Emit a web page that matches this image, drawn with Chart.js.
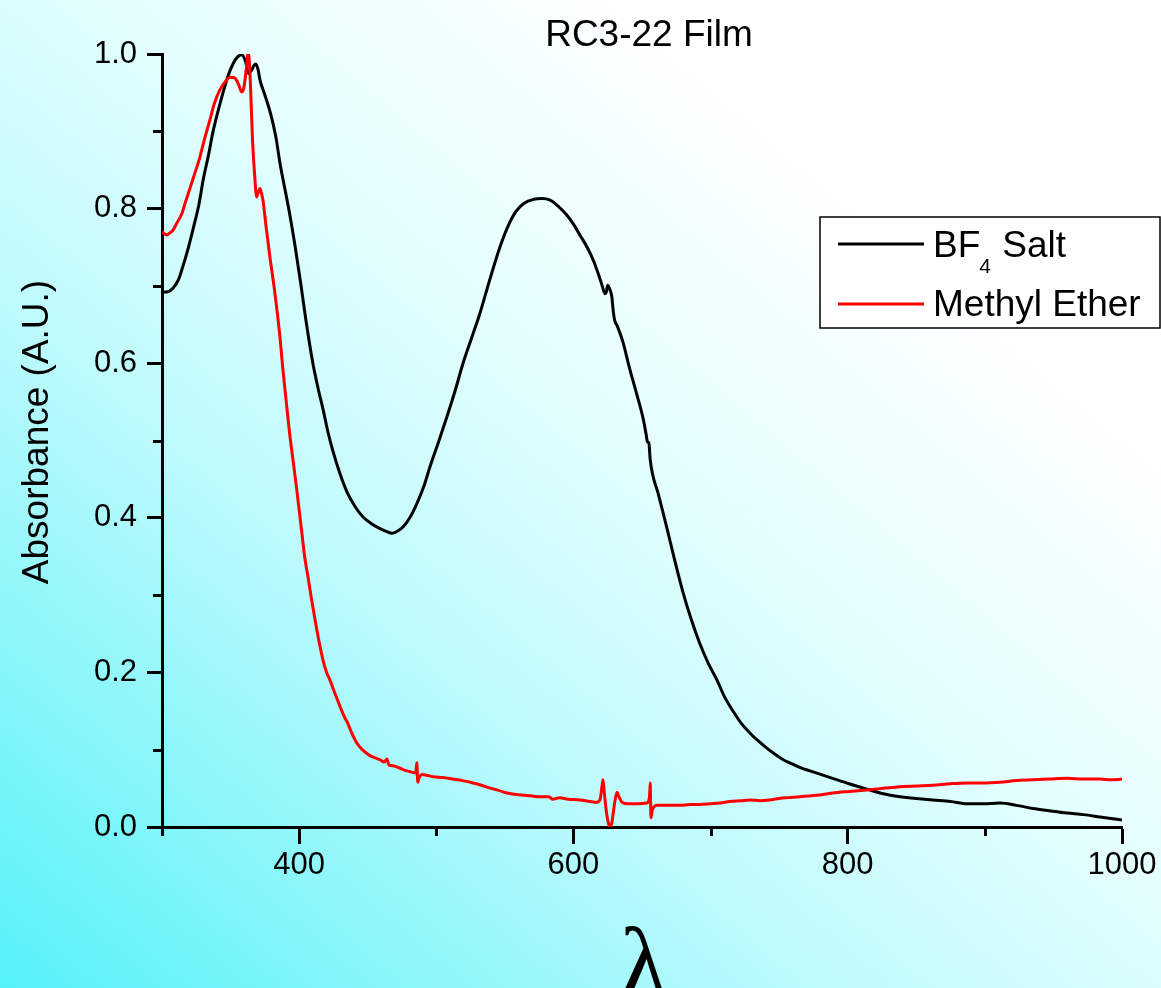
<!DOCTYPE html>
<html>
<head>
<meta charset="utf-8">
<title>RC3-22 Film</title>
<script src="https://cdn.jsdelivr.net/npm/chart.js@4.4.1/dist/chart.umd.min.js"></script>
<style>
  html, body { margin: 0; padding: 0; }
  body {
    width: 1161px;
    height: 988px;
    overflow: hidden;
    background: linear-gradient(to top right, #55f2f8 0%, #bdfafc 35%, #e4fefe 55%, #ffffff 78%);
  }
  #spectra { display: block; }
</style>
</head>
<body>
<canvas id="spectra" width="1161" height="988"></canvas>
<script>
// BF4 salt film spectrum
const saltWavelength = [
  300, 303, 308, 312, 315, 319, 323, 327, 330, 334, 337, 341, 344.5, 348, 352, 355, 358, 361, 363, 365,
  367, 368.5, 370, 371.5, 375, 379, 383, 386, 390, 393, 397, 401, 405, 410, 414, 417.6, 421, 424.7, 430, 435,
  441, 446.6, 453, 459, 464, 467.7, 471, 475.7, 481, 486, 491, 495.4, 502, 507.8, 514, 519.5, 526, 531.9, 539, 546,
  552, 558, 564, 571, 577, 583, 589, 595, 600, 605, 610, 615, 619, 621, 623, 624, 625, 626, 628, 629,
  630, 632, 636, 641, 646, 651, 653, 654, 655, 656, 662, 668, 674, 680, 686, 692, 698, 704.7, 710, 716,
  722, 729, 735, 741, 747, 753, 759, 765, 777, 789, 801, 814, 826, 838, 850, 862, 875, 887, 899, 911,
  923, 935, 947, 960, 972, 984, 992, 1000
];
const saltAbsorbance = [
  0.692, 0.692, 0.697, 0.708, 0.724, 0.748, 0.776, 0.806, 0.837, 0.870, 0.898, 0.927, 0.950, 0.971, 0.988, 0.996, 0.999, 0.990, 0.975, 0.978,
  0.985, 0.987, 0.980, 0.966, 0.947, 0.924, 0.893, 0.859, 0.822, 0.794, 0.752, 0.705, 0.655, 0.600, 0.566, 0.539, 0.511, 0.486, 0.456, 0.433,
  0.414, 0.401, 0.392, 0.386, 0.382, 0.380, 0.382, 0.388, 0.401, 0.419, 0.441, 0.466, 0.500, 0.531, 0.566, 0.600, 0.634, 0.665, 0.708, 0.748,
  0.776, 0.796, 0.807, 0.812, 0.813, 0.811, 0.803, 0.792, 0.780, 0.765, 0.750, 0.731, 0.711, 0.700, 0.690, 0.692, 0.701, 0.698, 0.686, 0.668,
  0.656, 0.648, 0.628, 0.593, 0.561, 0.527, 0.508, 0.498, 0.497, 0.475, 0.430, 0.388, 0.344, 0.303, 0.268, 0.238, 0.213, 0.190, 0.169, 0.151,
  0.135, 0.121, 0.111, 0.102, 0.094, 0.087, 0.082, 0.077, 0.070, 0.063, 0.056, 0.049, 0.043, 0.039, 0.037, 0.035, 0.033, 0.030, 0.030, 0.031,
  0.028, 0.024, 0.021, 0.018, 0.016, 0.013, 0.011, 0.009
];

// methyl ether film spectrum
const etherWavelength = [
  300, 303.6, 306, 308, 311, 314.6, 317, 320, 324, 327.7, 331, 335, 338, 342, 346, 349.6, 353, 356, 358, 359.5,
  360.5, 362, 362.7, 363.5, 364.5, 366, 367.5, 369, 370.3, 371.5, 372.5, 373.6, 376, 378.7, 382, 386, 388, 390.5, 393, 395.5,
  398, 402, 404, 406.5, 409, 411.6, 414.5, 417.4, 420, 422.5, 425, 427.6, 430, 433.4, 435, 438, 441, 444, 448, 452,
  456, 459, 462, 464, 465.5, 469, 473.5, 478, 482, 485, 485.8, 486.5, 487.5, 490, 493, 497.6, 505, 512, 519, 526.8,
  533, 540, 546, 551.6, 558, 564, 570, 575.6, 582, 585, 590, 596, 604.8, 612, 617, 619.5, 621, 621.6, 622.5, 624,
  625.5, 626.7, 628, 629, 630.5, 631.8, 633, 635.4, 640, 647, 653.6, 655.5, 656, 656.3, 656.6, 657.5, 661, 668, 677.7, 685,
  692, 700, 707, 714, 722, 729, 736, 743, 750, 757, 765, 777, 789, 801, 814, 826, 838, 850, 862, 875,
  887, 899, 911, 923, 935, 947, 960, 972, 984, 992, 1000
];
const etherAbsorbance = [
  0.770, 0.766, 0.769, 0.772, 0.782, 0.794, 0.808, 0.824, 0.846, 0.867, 0.890, 0.915, 0.935, 0.953, 0.964, 0.970, 0.969, 0.960, 0.951, 0.955,
  0.966, 0.990, 1.001, 0.995, 0.960, 0.889, 0.845, 0.815, 0.822, 0.826, 0.820, 0.811, 0.775, 0.737, 0.695, 0.634, 0.595, 0.552, 0.510, 0.475,
  0.440, 0.380, 0.350, 0.323, 0.295, 0.268, 0.240, 0.216, 0.200, 0.190, 0.178, 0.166, 0.155, 0.141, 0.136, 0.123, 0.112, 0.104, 0.097, 0.092,
  0.089, 0.087, 0.084, 0.088, 0.080, 0.079, 0.076, 0.073, 0.071, 0.070, 0.083, 0.058, 0.064, 0.068, 0.067, 0.065, 0.064, 0.062, 0.060, 0.057,
  0.054, 0.050, 0.047, 0.044, 0.042, 0.041, 0.040, 0.039, 0.039, 0.036, 0.038, 0.036, 0.035, 0.033, 0.032, 0.036, 0.055, 0.061, 0.045, 0.020,
  0.005, 0.000, 0.005, 0.018, 0.036, 0.045, 0.040, 0.032, 0.030, 0.030, 0.031, 0.040, 0.057, 0.030, 0.012, 0.022, 0.028, 0.028, 0.028, 0.029,
  0.029, 0.030, 0.031, 0.033, 0.034, 0.035, 0.034, 0.035, 0.037, 0.038, 0.039, 0.041, 0.044, 0.046, 0.048, 0.050, 0.052, 0.053, 0.054, 0.056,
  0.057, 0.057, 0.058, 0.060, 0.061, 0.062, 0.063, 0.062, 0.062, 0.061, 0.062
];

const xMajorTicks = [400, 600, 800, 1000];
const xMinorTicks = [300, 500, 700, 900];
const yMajorTicks = [0.0, 0.2, 0.4, 0.6, 0.8, 1.0];
const yMinorTicks = [0.1, 0.3, 0.5, 0.7, 0.9];

const SANS = "'Liberation Sans', Arial, Helvetica, sans-serif";
const SERIF = "'Liberation Serif', 'Times New Roman', serif";

function toPoints(xs, ys) {
    return xs.map((x, i) => ({ x: x, y: ys[i] }));
}

// minor ticks, title, axis titles and the boxed legend
const decorations = {
    id: 'decorations',
    afterDraw(chart) {
        const ctx = chart.ctx;
        const area = chart.chartArea;
        const xs = chart.scales.x;
        const ys = chart.scales.y;
        const midX = (area.left + area.right) / 2;

        ctx.save();
        ctx.strokeStyle = '#000';
        ctx.lineWidth = 3;
        ctx.beginPath();
        yMinorTicks.forEach(v => {
            const py = Math.round(ys.getPixelForValue(v)) + 0.5;
            ctx.moveTo(area.left - 9, py);
            ctx.lineTo(area.left, py);
        });
        xMinorTicks.forEach(v => {
            const px = Math.round(xs.getPixelForValue(v)) + 0.5;
            ctx.moveTo(px, area.bottom);
            ctx.lineTo(px, area.bottom + 9);
        });
        ctx.stroke();

        ctx.fillStyle = '#000';
        ctx.textAlign = 'center';
        ctx.textBaseline = 'alphabetic';
        ctx.font = '37px ' + SANS;
        ctx.fillText('RC3-22 Film', midX + 7, 46);

        ctx.save();
        ctx.translate(48, 432);
        ctx.rotate(-Math.PI / 2);
        ctx.font = '37px ' + SANS;
        ctx.fillText('Absorbance (A.U.)', 0, 0);
        ctx.restore();

        ctx.font = '100px ' + SERIF;
        ctx.fillText('\u03bb', midX + 2, 996);

        // legend
        const lx = 820, ly = 217, lw = 340, lh = 111;
        ctx.fillStyle = '#fff';
        ctx.fillRect(lx, ly, lw, lh);
        ctx.lineWidth = 1.5;
        ctx.strokeRect(lx, ly, lw, lh);

        ctx.lineWidth = 3;
        ctx.strokeStyle = '#000';
        ctx.beginPath();
        ctx.moveTo(838, 244);
        ctx.lineTo(924, 244);
        ctx.stroke();
        ctx.strokeStyle = '#ff0000';
        ctx.beginPath();
        ctx.moveTo(838, 304);
        ctx.lineTo(924, 304);
        ctx.stroke();

        ctx.fillStyle = '#000';
        ctx.textAlign = 'left';
        ctx.font = '37px ' + SANS;
        ctx.fillText('BF', 933, 257);
        let cx = 933 + ctx.measureText('BF').width;
        ctx.font = '21px ' + SANS;
        ctx.fillText('4', cx - 1, 273);
        cx += ctx.measureText('4').width;
        ctx.font = '37px ' + SANS;
        ctx.fillText(' Salt', cx, 257);
        ctx.fillText('Methyl Ether', 933, 316);
        ctx.restore();
    }
};

Chart.defaults.font.family = SANS;
Chart.defaults.color = '#000';

const ctx = document.getElementById('spectra').getContext('2d');
const spectraChart = new Chart(ctx, {
    type: 'line',
    data: {
        datasets: [{
            label: 'BF4 Salt',
            data: toPoints(saltWavelength, saltAbsorbance),
            borderColor: '#000000',
            borderWidth: 3,
            pointRadius: 0,
            cubicInterpolationMode: 'monotone',
            order: 1
        }, {
            label: 'Methyl Ether',
            data: toPoints(etherWavelength, etherAbsorbance),
            borderColor: '#ff0000',
            borderWidth: 3,
            pointRadius: 0,
            cubicInterpolationMode: 'monotone',
            order: 0
        }]
    },
    options: {
        responsive: false,
        devicePixelRatio: 1,
        animation: false,
        layout: {
            padding: { top: 54, right: 39, bottom: 0, left: 0 }
        },
        scales: {
            x: {
                type: 'linear',
                min: 300,
                max: 1000,
                afterBuildTicks: scale => {
                    scale.ticks = xMajorTicks.map(v => ({ value: v }));
                },
                afterFit: scale => {
                    scale.height = 161;
                },
                grid: {
                    drawOnChartArea: false,
                    drawTicks: true,
                    tickLength: 17,
                    tickWidth: 3,
                    tickColor: '#000'
                },
                border: { display: true, color: '#000', width: 3 },
                ticks: {
                    font: { size: 31 },
                    color: '#000',
                    padding: 3,
                    maxRotation: 0,
                    callback: v => String(v)
                }
            },
            y: {
                min: 0,
                max: 1,
                afterBuildTicks: scale => {
                    scale.ticks = yMajorTicks.map(v => ({ value: v }));
                },
                afterFit: scale => {
                    scale.width = 162;
                },
                grid: {
                    drawOnChartArea: false,
                    drawTicks: true,
                    tickLength: 15,
                    tickWidth: 3,
                    tickColor: '#000'
                },
                border: { display: true, color: '#000', width: 3 },
                ticks: {
                    font: { size: 31 },
                    color: '#000',
                    padding: 10,
                    callback: v => Number(v).toFixed(1)
                }
            }
        },
        plugins: {
            legend: { display: false },
            title: { display: false },
            tooltip: { enabled: false }
        }
    },
    plugins: [decorations]
});
</script>
</body>
</html>
